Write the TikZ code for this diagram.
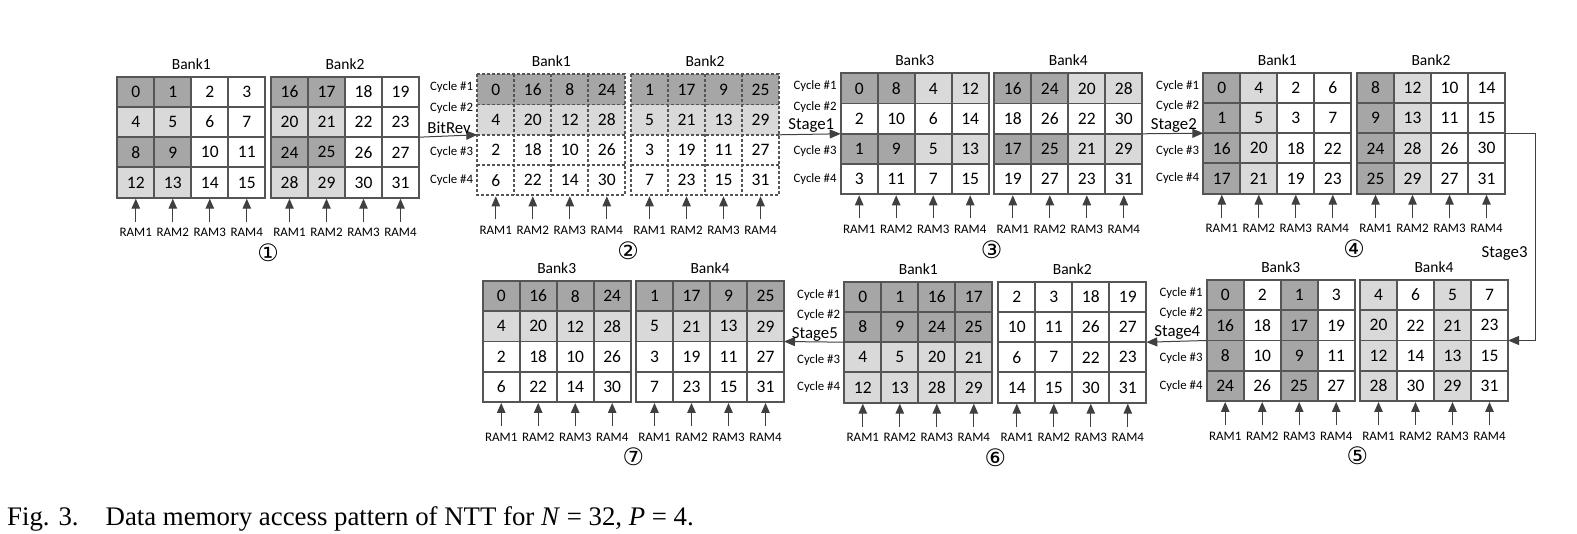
\documentclass[tikz,border=0pt]{standalone}
\usepackage{fontspec}
\setmainfont{Liberation Serif}
\newfontfamily\carlito{Carlito}
\newfontfamily\dejavu{DejaVu Sans}
\usetikzlibrary{arrows.meta,calc}
\definecolor{celld}{RGB}{166,166,166}
\definecolor{celll}{RGB}{217,217,217}
\definecolor{cellw}{RGB}{255,255,255}
\definecolor{gridgray}{RGB}{85,85,85}
\definecolor{arrowgray}{RGB}{64,64,64}

\begin{document}
\begin{tikzpicture}[x=1pt,y=-1pt,font=\carlito,
  cell/.style={rectangle,minimum width=37pt,minimum height=30.25pt,inner sep=0pt,outer sep=0pt,line width=1.9pt,font=\carlito\fontsize{17.5}{19}\selectfont},
  dashgrid/.style={draw=gridgray,line width=1.9pt,dash pattern=on 3pt off 2pt},
  banklab/.style={inner sep=0pt,font=\carlito\fontsize{15.5}{17}\selectfont},
  ramlab/.style={inner sep=0pt,font=\carlito\fontsize{13}{15}\selectfont},
  cyc/.style={anchor=east,inner sep=0pt,font=\carlito\fontsize{12.8}{14}\selectfont},
  stagelab/.style={inner sep=0pt,font=\carlito\fontsize{16.8}{18}\selectfont},
  circnum/.style={inner sep=0pt,font=\dejavu\fontsize{24}{26}\selectfont},
  ramarrow/.style={-{Triangle[length=10pt,width=8.5pt]},line width=1.1pt,draw=arrowgray},
  flow/.style={-{Triangle[length=11pt,width=9pt]},line width=1pt,draw=arrowgray}]
\path[use as bounding box,fill=white] (0,0) rectangle (1577,534);

% solid banks
\foreach \nm/\bx/\by/\lab/\cells in {
  p1a/117.3/76.7/Bank1/{0/d,1/d,2/w,3/w,4/l,5/l,6/w,7/w,8/d,9/d,10/w,11/w,12/l,13/l,14/w,15/w},
  p1b/271/76.7/Bank2/{16/d,17/d,18/w,19/w,20/l,21/l,22/w,23/w,24/d,25/d,26/w,27/w,28/l,29/l,30/w,31/w},
  p3a/840.7/73.3/Bank3/{0/d,8/d,4/l,12/l,2/w,10/w,6/w,14/w,1/d,9/d,5/l,13/l,3/w,11/w,7/w,15/w},
  p3b/994.3/73.3/Bank4/{16/d,24/d,20/l,28/l,18/w,26/w,22/w,30/w,17/d,25/d,21/l,29/l,19/w,27/w,23/w,31/w},
  p4a/1203.3/72.7/Bank1/{0/d,4/l,2/w,6/w,1/d,5/l,3/w,7/w,16/d,20/l,18/w,22/w,17/d,21/l,19/w,23/w},
  p4b/1357/72.7/Bank2/{8/d,12/l,10/w,14/w,9/d,13/l,11/w,15/w,24/d,28/l,26/w,30/w,25/d,29/l,27/w,31/w},
  p5a/1206.7/280/Bank3/{0/d,2/w,1/d,3/w,16/d,18/w,17/d,19/w,8/d,10/w,9/d,11/w,24/d,26/w,25/d,27/w},
  p5b/1360/280/Bank4/{4/l,6/w,5/l,7/w,20/l,22/w,21/l,23/w,12/l,14/w,13/l,15/w,28/l,30/w,29/l,31/w},
  p6a/844.3/281.7/Bank1/{0/d,1/d,16/d,17/d,8/d,9/d,24/d,25/d,4/l,5/l,20/l,21/l,12/l,13/l,28/l,29/l},
  p6b/998.3/281.7/Bank2/{2/w,3/w,18/w,19/w,10/w,11/w,26/w,27/w,6/w,7/w,22/w,23/w,14/w,15/w,30/w,31/w},
  p7a/482.7/281/Bank3/{0/d,16/d,8/d,24/d,4/l,20/l,12/l,28/l,2/w,18/w,10/w,26/w,6/w,22/w,14/w,30/w},
  p7b/636/281/Bank4/{1/d,17/d,9/d,25/d,5/l,21/l,13/l,29/l,3/w,19/w,11/w,27/w,7/w,23/w,15/w,31/w}}{
  \foreach \v/\s [count=\i from 0] in \cells {
    \pgfmathtruncatemacro\cx{mod(\i,4)}
    \pgfmathtruncatemacro\ry{\i/4}
    \node[cell,draw=gridgray,fill=cell\s] (\nm-\i) at (\bx+18.5+37*\cx,\by+15.125+30.25*\ry) {\v};
  }
  \node[banklab] (\nm-lab) at ([yshift=13pt]\nm-1.north east) {\lab};
}

% dashed banks after bit reversal
\foreach \nm/\bx/\by/\lab/\cells in {
  p2a/477.3/74.3/Bank1/{0/d,16/d,8/d,24/d,4/l,20/l,12/l,28/l,2/w,18/w,10/w,26/w,6/w,22/w,14/w,30/w},
  p2b/631/74.3/Bank2/{1/d,17/d,9/d,25/d,5/l,21/l,13/l,29/l,3/w,19/w,11/w,27/w,7/w,23/w,15/w,31/w}}{
  \foreach \v/\s [count=\i from 0] in \cells {
    \pgfmathtruncatemacro\cx{mod(\i,4)}
    \pgfmathtruncatemacro\ry{\i/4}
    \node[cell,fill=cell\s] (\nm-\i) at (\bx+18.5+37*\cx,\by+15.125+30.25*\ry) {\v};
  }
  \draw[dashgrid] (\nm-0.north west) rectangle (\nm-15.south east);
  \foreach \t/\b in {0/12,1/13,2/14} \draw[dashgrid] (\nm-\t.north east) -- (\nm-\b.south east);
  \foreach \l/\r in {4/7,8/11,12/15} \draw[dashgrid] (\nm-\l.north west) -- (\nm-\r.north east);
  \node[banklab] (\nm-lab) at ([yshift=13pt]\nm-1.north east) {\lab};
}

% RAM ports
\foreach \nm in {p1a,p1b,p2a,p2b,p3a,p3b,p4a,p4b,p5a,p5b,p6a,p6b,p7a,p7b}
  \foreach \b [count=\n] in {12,13,14,15} {
    \coordinate (\nm-t\n) at ([yshift=-24pt]\nm-\b.south);
    \draw[ramarrow] (\nm-t\n) -- ([yshift=-1pt]\nm-\b.south);
    \node[ramlab] (\nm-ram\n) at ([yshift=-35pt]\nm-\b.south) {RAM\n};
  }

% cycle labels
\foreach \nm in {p2a,p3a,p4a,p5a,p6a} {
  \node[cyc] (\nm-cy1) at ([xshift=-4pt,yshift=2pt]\nm-0.west) {Cycle \#1};
  \node[cyc] (\nm-cy2) at ([xshift=-4pt,yshift=12pt]\nm-4.west) {Cycle \#2};
  \node[cyc] (\nm-cy3) at ([xshift=-4pt,yshift=-2.5pt]\nm-8.west) {Cycle \#3};
  \node[cyc] (\nm-cy4) at ([xshift=-4pt]\nm-12.west) {Cycle \#4};
}

% step numbers
\foreach \p/\k in {p1/①,p2/②,p3/③,p4/④,p5/⑤,p6/⑥,p7/⑦}
  \node[circnum] (\p-num) at ($(\p a-15.south east)!.5!(\p b-12.south west)+(0,55)$) {\k};

% stages
\draw[flow] (p1b-7.south east) -- node[stagelab,pos=1,anchor=south east,xshift=-6pt,yshift=0.5pt] {BitRev} (p2a-8.north west);
\draw[flow] (p2b-7.south east) -- node[stagelab,pos=1,anchor=south east,xshift=-6pt,yshift=0.5pt] {Stage1} (p3a-8.north west);
\draw[flow] (p3b-7.south east) -- node[stagelab,pos=1,anchor=south east,xshift=-6pt,yshift=0.5pt] {Stage2} (p4a-8.north west);
\draw[flow] (p4b-7.south east) -- ++(30.5,0) |- node[stagelab,pos=0.29,anchor=east,xshift=-7.5pt] {Stage3} (p5b-7.south east);
\draw[flow] (p5a-8.north west) -- node[stagelab,pos=0,anchor=south east,xshift=-6pt,yshift=0.5pt] {Stage4} (p6b-7.south east);
\draw[flow] (p6a-8.north west) -- node[stagelab,pos=0,anchor=south east,xshift=-6pt,yshift=0.5pt] {Stage5} (p7b-7.south east);

\node[anchor=base west,inner sep=0pt,font=\fontsize{26.8}{30}\selectfont] (cap) at (7,525) {Fig. 3.\hspace{27pt}Data memory access pattern of NTT for \textit{N} = 32, \textit{P} = 4.};
\end{tikzpicture}
\end{document}
